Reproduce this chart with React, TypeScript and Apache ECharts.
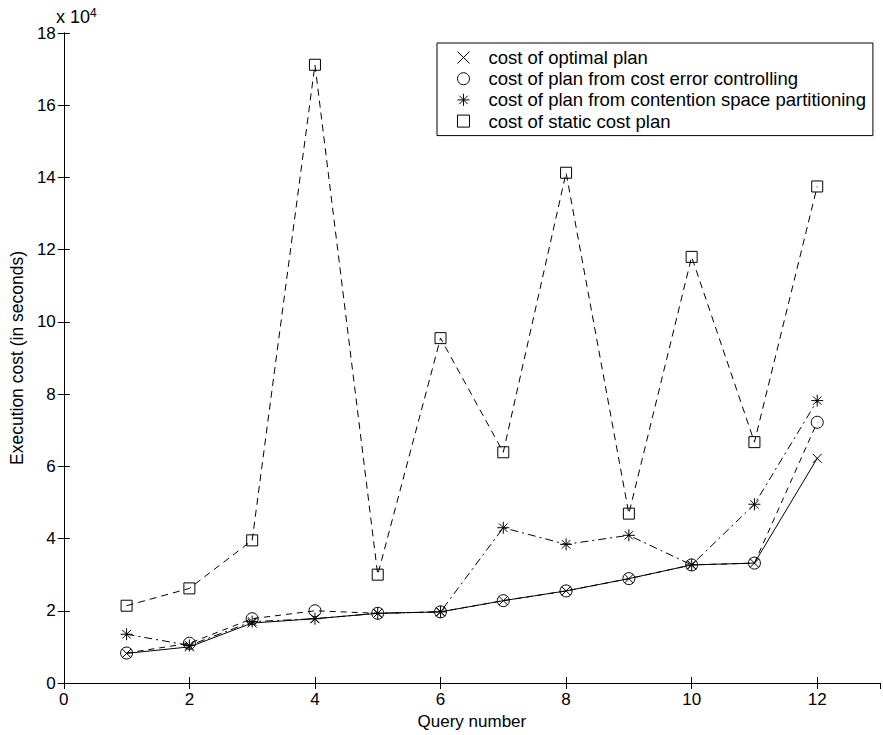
import React, { useEffect, useRef } from "react";
import * as echarts from "echarts";

const queryNumbers = [1, 2, 3, 4, 5, 6, 7, 8, 9, 10, 11, 12];
const optimalCost = [8200, 10000, 16600, 17800, 19300, 19700, 22800, 25500, 28900, 32700, 33200, 62200];
const errorControlCost = [8300, 11000, 17800, 20000, 19300, 19700, 22800, 25500, 28900, 32700, 33200, 72200];
const contentionCost = [13500, 10400, 17000, 17800, 19300, 19700, 43000, 38400, 40900, 32700, 49500, 78200];
const staticCost = [21400, 26200, 39500, 171200, 30000, 95500, 63900, 141300, 46900, 118000, 66700, 137500];

const seriesNames = [
  "cost of optimal plan",
  "cost of plan from cost error controlling",
  "cost of plan from contention space partitioning",
  "cost of static cost plan",
];
const xTicks = [0, 2, 4, 6, 8, 10, 12];
const yTickStep = 20000;

const CROSS = "path://M0,0L10,10M10,0L0,10";
const STAR = "path://M5,0L5,10M0,5L10,5M1.5,1.5L8.5,8.5M8.5,1.5L1.5,8.5";
const SQUARE = "path://M0,0L10,0L10,10L0,10Z";
const CIRCLE = "circle";

const FONT = "'Liberation Sans', Arial, Helvetica, sans-serif";

export default function App() {
  const ref = useRef<HTMLDivElement>(null);
  useEffect(() => {
    if (!ref.current) return;
    const chart = echarts.init(ref.current, null, { renderer: "svg" });
    const pts = (vals: number[]) => queryNumbers.map((q, i) => [q, vals[i]]);
    const markerStyle = { color: "rgba(0,0,0,0)", borderColor: "#000", borderWidth: 1 };
    const mk = (name: string, vals: number[], symbol: string, size: number, type: any, z: number) => ({
      name,
      type: "line",
      data: pts(vals),
      symbol,
      symbolSize: size,
      showSymbol: true,
      itemStyle: markerStyle,
      lineStyle: { color: "#000", width: 1, type },
      emphasis: { disabled: true },
      z,
    });
    const axisCommon = {
      axisLine: { show: true, lineStyle: { color: "#000", width: 1 } },
      axisTick: { show: true, inside: true, length: 6, lineStyle: { color: "#000" } },
      splitLine: { show: false },
    };
    chart.setOption({
      animation: false,
      backgroundColor: "#fff",
      grid: { left: 56, right: 3, top: 33, bottom: 52, containLabel: false },
      xAxis: [
        {
          type: "value",
          min: 0,
          max: 13,
          interval: 2,
          name: "Query number",
          nameLocation: "middle",
          nameGap: 26,
          nameTextStyle: { color: "#000", fontSize: 17, fontFamily: FONT },
          axisLabel: {
            color: "#000",
            fontSize: 17,
            fontFamily: FONT,
            margin: 8,
            showMaxLabel: false,
            formatter: (v: number) => (xTicks.includes(v) ? String(v) : ""),
          },
          ...axisCommon,
        },
        {
          type: "value",
          position: "top",
          min: 0,
          max: 13,
          interval: 2,
          axisLabel: { show: false },
          ...axisCommon,
        },
      ],
      yAxis: [
        {
          type: "value",
          min: 0,
          max: 180000,
          interval: yTickStep,
          name: "Execution cost (in seconds)",
          nameLocation: "middle",
          nameGap: 36,
          nameTextStyle: { color: "#000", fontSize: 17.5, fontFamily: FONT },
          axisLabel: {
            color: "#000",
            fontSize: 17,
            fontFamily: FONT,
            margin: 8,
            formatter: (v: number) => String(v / 10000),
          },
          ...axisCommon,
        },
        {
          type: "value",
          position: "right",
          min: 0,
          max: 180000,
          interval: yTickStep,
          axisLabel: { show: false },
          ...axisCommon,
        },
      ],
      legend: {
        orient: "vertical",
        left: 437,
        top: 43,
        padding: [5, 7, 5, 20],
        itemGap: 2.2,
        itemWidth: 12,
        itemHeight: 12,
        backgroundColor: "#fff",
        borderColor: "#000",
        borderWidth: 1,
        borderRadius: 0,
        selectedMode: false,
        itemStyle: { color: "rgba(0,0,0,0)", borderColor: "#000", borderWidth: 1 },
        textStyle: { color: "#000", fontSize: 18.5, fontFamily: FONT, padding: [0, 0, 0, 14] },
        data: [
          { name: seriesNames[0], icon: CROSS },
          { name: seriesNames[1], icon: CIRCLE },
          { name: seriesNames[2], icon: STAR },
          { name: seriesNames[3], icon: SQUARE },
        ],
      },
      graphic: [
        {
          type: "text",
          left: 56,
          top: 7,
          style: {
            text: "x 10{sup|4}",
            fill: "#000",
            fontSize: 18,
            fontFamily: FONT,
            rich: { sup: { fontSize: 12, verticalAlign: "top", padding: [0, 0, 8, 0], fontFamily: FONT } },
          },
        },
      ],
      series: [
        mk(seriesNames[3], staticCost, SQUARE, 11, [7, 5], 2),
        mk(seriesNames[2], contentionCost, STAR, 12, [8, 4, 2, 4], 3),
        mk(seriesNames[1], errorControlCost, CIRCLE, 12, [6, 5], 4),
        mk(seriesNames[0], optimalCost, CROSS, 9, "solid", 5),
      ],
    });
    return () => chart.dispose();
  }, []);
  return <div ref={ref} style={{ width: 883, height: 735, position: "fixed", left: 0, top: 0 }} />;
}
